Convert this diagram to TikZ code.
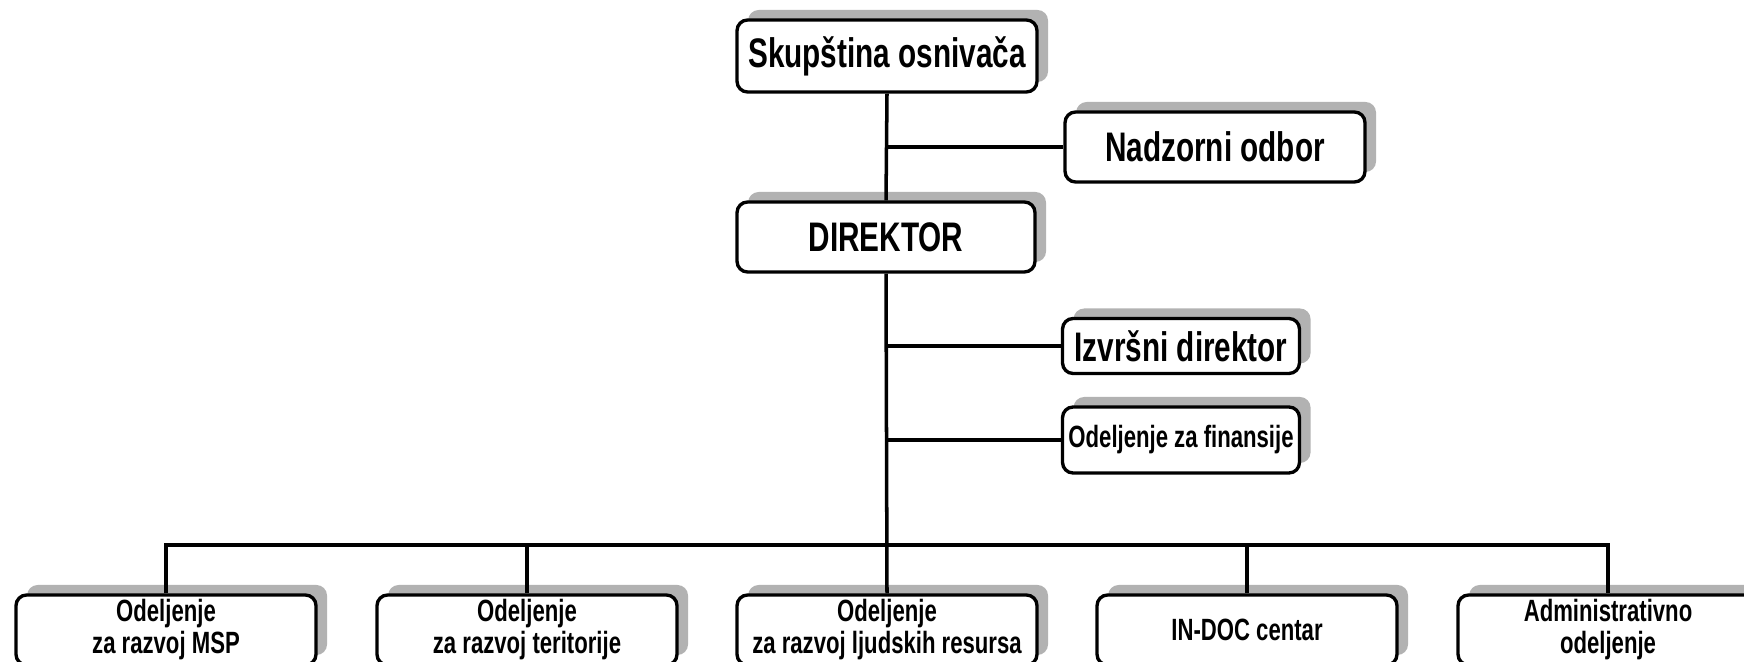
\documentclass[tikz,border=0pt]{standalone}
\usepackage{fontspec}
\setmainfont{Liberation Sans}[FakeStretch=0.72]
\usetikzlibrary{shadows}
\definecolor{shadowgray}{RGB}{178,178,178}
\begin{document}
\begin{tikzpicture}[x=0.02cm,y=-0.02cm,
  orgbox/.style={draw=black, line width=1.9pt, fill=white, rounded corners=6pt,
    inner sep=0pt, align=center, font=\bfseries,
    drop shadow={shadow xshift=6.3pt, shadow yshift=5.7pt, fill=shadowgray, opacity=1}},
  bigbox/.style={orgbox, font=\fontsize{23.5}{26}\selectfont\bfseries},
  smallbox/.style={orgbox, font=\fontsize{17.5}{18.2}\selectfont\bfseries},
  conn/.style={line width=2pt, draw=black}]
\useasboundingbox (0,0) rectangle (1744,662);
\clip (0,0) rectangle (1744,662);

\node[bigbox, minimum width=6cm, minimum height=1.44cm] (sk) at (887,56) {Skupština osnivača};
\node[bigbox, minimum width=6cm, minimum height=1.4cm] (nad) at (1215,147) {Nadzorni odbor};
\node[bigbox, minimum width=5.96cm, minimum height=1.4cm] (dir) at (886,237) {DIREKTOR};
\node[bigbox, minimum width=4.74cm, minimum height=1.1cm] (izv) at (1181,346) {Izvršni direktor};
\node[smallbox, minimum width=4.74cm, minimum height=1.32cm] (fin) at (1181,440) {Odeljenje za finansije};

\node[smallbox, minimum width=6cm, minimum height=1.4cm] (b1) at (166,630) {Odeljenje\\za razvoj MSP};
\node[smallbox, minimum width=6cm, minimum height=1.4cm] (b2) at (527,630) {Odeljenje\\za razvoj teritorije};
\node[smallbox, minimum width=6cm, minimum height=1.4cm] (b3) at (887,630) {Odeljenje\\za razvoj ljudskih resursa};
\node[smallbox, minimum width=6cm, minimum height=1.4cm] (b4) at (1247,630) {IN-DOC centar};
\node[smallbox, minimum width=6cm, minimum height=1.4cm] (b5) at (1608,630) {Administrativno\\odeljenje};

\coordinate (bus) at (887,545);

\draw[conn] (sk.south) -- (dir.north);
\draw[conn] (sk.south |- nad.west) -- (nad.west);
\draw[conn] (dir.south) -- (b3.north);
\draw[conn] (dir.south |- izv.west) -- (izv.west);
\draw[conn] (dir.south |- fin.west) -- (fin.west);
\draw[conn] (b1.north) |- (bus) -| (b5.north);
\draw[conn] (b2.north) -- (b2.north |- bus);
\draw[conn] (b4.north) -- (b4.north |- bus);
\end{tikzpicture}
\end{document}
